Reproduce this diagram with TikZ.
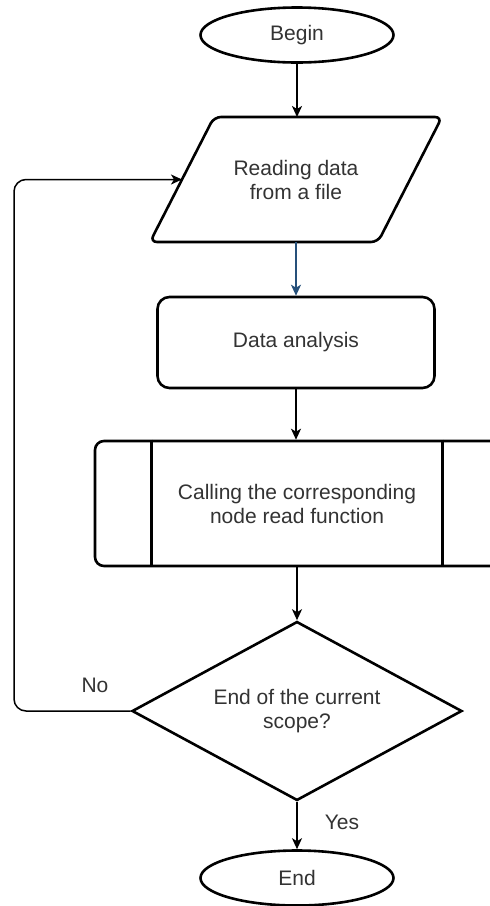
\documentclass[tikz,border=0pt]{standalone}
\usepackage{fontspec}
\setmainfont{Liberation Sans}
\usetikzlibrary{shapes.geometric,arrows.meta,calc,backgrounds}
\definecolor{txtgray}{HTML}{333333}
\definecolor{flowblue}{HTML}{26507A}
\begin{document}
\begin{tikzpicture}[x=1pt,y=-1pt,
  font=\fontsize{21}{24}\selectfont,
  box/.style={draw=black,line width=2.6pt,fill=white,text=txtgray,align=center,inner sep=0pt},
  term/.style={box,ellipse,minimum width=193pt,minimum height=55pt},
  iotext/.style={text=txtgray,align=center,inner sep=0pt,outer sep=0pt,
    minimum width=228pt,minimum height=125pt},
  ioshape/.style={draw=black,line width=2.6pt,fill=white,rounded corners=7pt},
  proc/.style={box,rectangle,rounded corners=12pt,minimum width=277pt,minimum height=91pt},
  subproc/.style={box,rectangle,rounded corners=9pt,minimum width=404pt,minimum height=125pt},
  decision/.style={box,diamond,shape aspect=1.85,minimum width=330pt,minimum height=179pt},
  tip/.style={-{Stealth[length=11pt,width=10pt,inset=3pt]}},
  flow/.style={draw=black,line width=1.8pt,tip},
  flowb/.style={draw=flowblue,line width=1.8pt,tip},
  back/.style={draw=black,line width=1.5pt,rounded corners=12pt,tip},
  bar/.style={draw=black,line width=2.6pt},
  lbl/.style={text=txtgray,inner sep=1pt}
]
\clip (0,0) rectangle (490,906);

% flowchart nodes
\node[term]     (begin) at (297,35)    {Begin};
\node[iotext]   (read)  at (296,179.5) {Reading data\\from a file};
\node[proc]     (anal)  at (296,342.5) {Data analysis};
\node[subproc]  (call)  at (297,503.5) {Calling the corresponding\\node read function};
\node[decision] (dec)   at (297,711)   {End of the current\\scope?};
\node[term]     (end)   at (297,878)   {End};

% slanted input/output outline behind the text node
\begin{scope}[on background layer]
\draw[ioshape] ($(read.north west)+(32,0)$) -- ($(read.north east)+(32,0)$)
  -- ($(read.south east)+(-32,0)$) -- ($(read.south west)+(-32,0)$) -- cycle;
\end{scope}

% inner bars of the predefined-process box
\draw[bar] ($(call.north west)+(58,0)$) -- ($(call.south west)+(58,0)$);
\draw[bar] ($(call.north east)+(-58,0)$) -- ($(call.south east)+(-58,0)$);

% connectors
\draw[flow]  (begin) -- (begin |- read.north);
\draw[flowb] (read.south -| anal.north) -- (anal);
\draw[flow]  (anal) -- (anal |- call.north);
\draw[flow]  (call) -- (dec);
\draw[flow]  (dec) -- (end);

\coordinate (turn) at (14,711);
\draw[back] (dec.west) -- (turn) |- (read.west);

% branch labels
\node[lbl] (no)  at (95,685)  {No};
\node[lbl] (yes) at (342,822) {Yes};
\end{tikzpicture}
\end{document}
